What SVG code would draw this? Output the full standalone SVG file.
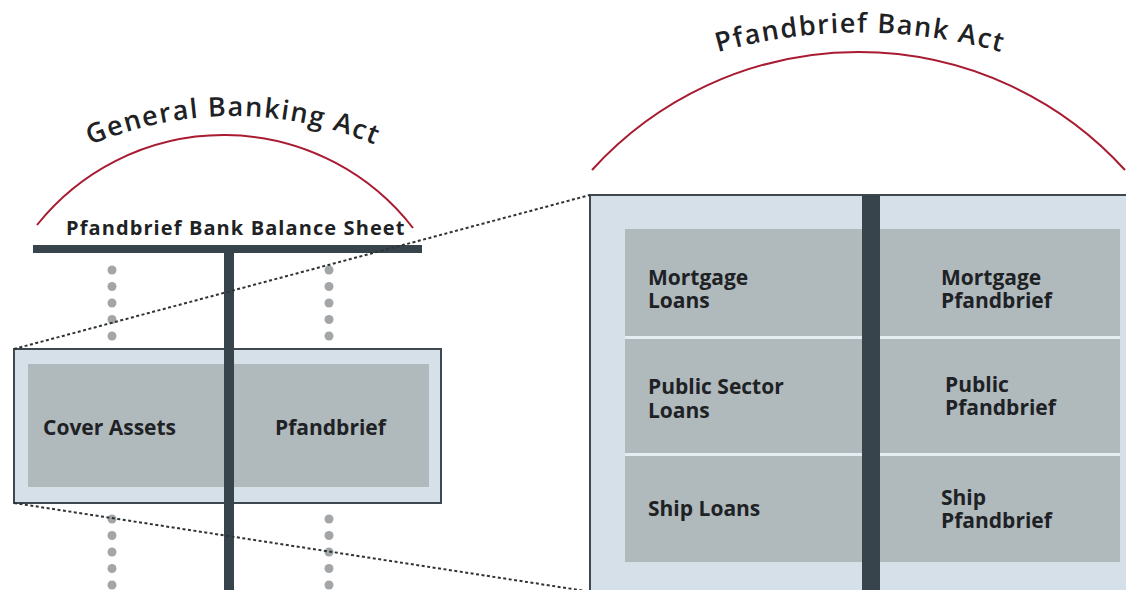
<svg xmlns="http://www.w3.org/2000/svg" width="1126" height="590" viewBox="0 0 1126 590">
<style>
.arc{fill:none;stroke:#a81b30;stroke-width:2}
.title{font-family:"Open Sans","DejaVu Sans",sans-serif;font-size:27px;font-weight:600;fill:#1e2225;letter-spacing:1.5px}
.lbl{font-family:"Open Sans","Liberation Sans",sans-serif;font-size:21px;font-weight:700;fill:#1e2225}
.bar{fill:#37444c}
.outer{fill:#d5e0e8;stroke:#3e484e;stroke-width:2}
.inner{fill:#b0b9bc}
.dot{fill:#a2a6a8}
.sep{stroke:#e6edf2;stroke-width:3}
.conn{fill:none;stroke:#2e3336;stroke-width:2;stroke-dasharray:3 2.5}
</style>
<defs>
<path id="pL" d="M -0.3 200.9 A 363 363 0 0 1 466.3 200.9"/>
<path id="pR" d="M 640.5 81.2 A 519.5 519.5 0 0 1 1079.5 81.2"/>
</defs>
<g id="general-banking-act">
<path class="arc" d="M 37 225 A 239 239 0 0 1 413 228"/>
<text class="title"><textPath href="#pL" startOffset="50%" text-anchor="middle">General Banking Act</textPath></text>
</g>
<g id="balance-sheet">
<text x="66" y="235" class="lbl" style="font-size:20px;letter-spacing:1.1px">Pfandbrief Bank Balance Sheet</text>
<rect class="bar" x="33" y="245" width="389" height="8"/>
</g>
<g id="dots">
<circle class="dot" cx="112" cy="270" r="4.5"/><circle class="dot" cx="112" cy="286.5" r="4.5"/><circle class="dot" cx="112" cy="303" r="4.5"/><circle class="dot" cx="112" cy="319.5" r="4.5"/><circle class="dot" cx="112" cy="336" r="4.5"/>
<circle class="dot" cx="329" cy="270" r="4.5"/><circle class="dot" cx="329" cy="286.5" r="4.5"/><circle class="dot" cx="329" cy="303" r="4.5"/><circle class="dot" cx="329" cy="319.5" r="4.5"/><circle class="dot" cx="329" cy="336" r="4.5"/>
<circle class="dot" cx="112" cy="519" r="4.5"/><circle class="dot" cx="112" cy="535.5" r="4.5"/><circle class="dot" cx="112" cy="552" r="4.5"/><circle class="dot" cx="112" cy="568.5" r="4.5"/><circle class="dot" cx="112" cy="585" r="4.5"/>
<circle class="dot" cx="329" cy="519" r="4.5"/><circle class="dot" cx="329" cy="535.5" r="4.5"/><circle class="dot" cx="329" cy="552" r="4.5"/><circle class="dot" cx="329" cy="568.5" r="4.5"/><circle class="dot" cx="329" cy="585" r="4.5"/>
</g>
<g id="cover-pool">
<rect class="outer" x="14" y="349" width="427" height="154"/>
<rect class="inner" x="28" y="364" width="401" height="123"/>
<text x="43" y="435" class="lbl">Cover Assets</text>
<text x="275" y="435" class="lbl">Pfandbrief</text>
</g>
<rect id="left-stem" class="bar" x="224" y="253" width="10" height="337"/>
<g id="pfandbrief-bank-act">
<path class="arc" d="M 592 170 A 360 360 0 0 1 1125 170"/>
<text class="title"><textPath href="#pR" startOffset="50%" text-anchor="middle">Pfandbrief Bank Act</textPath></text>
</g>
<g id="detail">
<rect class="outer" x="590" y="195" width="560" height="420"/>
<rect class="inner" x="625" y="229" width="495" height="333"/>
<line class="sep" x1="625" y1="337.5" x2="1120" y2="337.5"/>
<line class="sep" x1="625" y1="454.5" x2="1120" y2="454.5"/>
<rect class="bar" x="862" y="195" width="18" height="395"/>
<g>
<text x="648" y="285" class="lbl">Mortgage</text><text x="648" y="308" class="lbl">Loans</text>
<text x="648" y="394" class="lbl">Public Sector</text><text x="648" y="418" class="lbl">Loans</text>
<text x="648" y="516" class="lbl">Ship Loans</text>
<text x="941" y="285" class="lbl">Mortgage</text><text x="941" y="308" class="lbl">Pfandbrief</text>
<text x="945" y="392" class="lbl">Public</text><text x="945" y="415" class="lbl">Pfandbrief</text>
<text x="941" y="505" class="lbl">Ship</text><text x="941" y="528" class="lbl">Pfandbrief</text>
</g>
</g>
<g id="connectors">
<line class="conn" x1="14" y1="349" x2="590" y2="195"/>
<line class="conn" x1="14" y1="503" x2="592" y2="592"/>
</g>
</svg>
